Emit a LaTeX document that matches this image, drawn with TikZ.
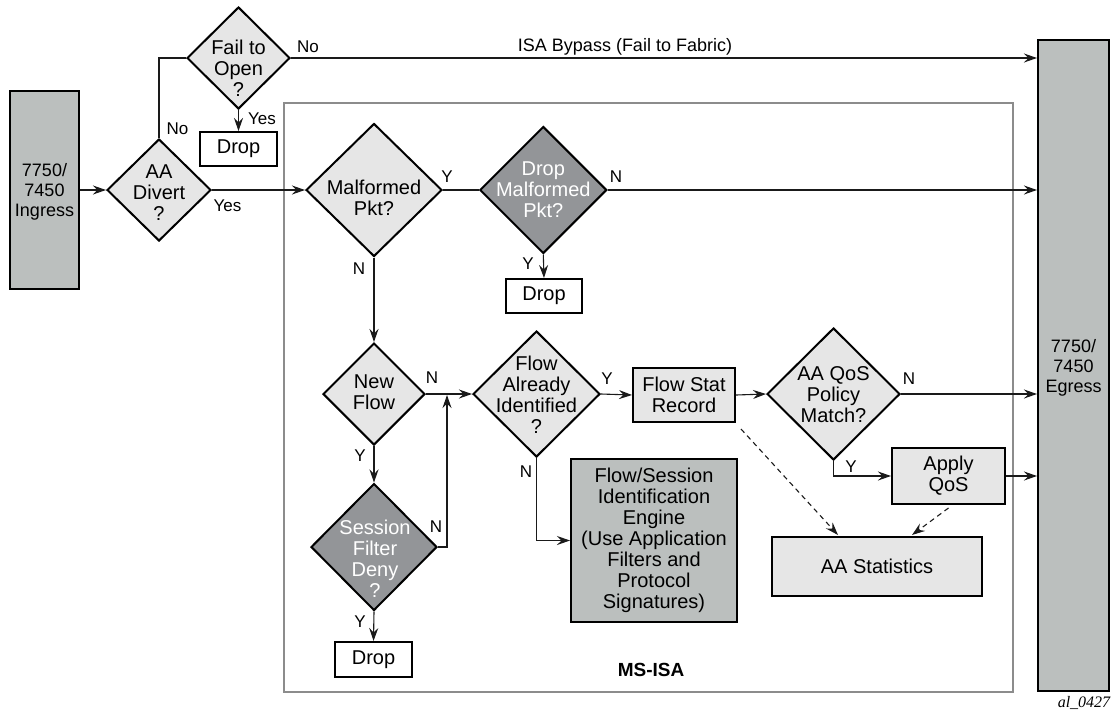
\documentclass[tikz,border=0pt]{standalone}
\usepackage{fontspec}
\setmainfont{Liberation Sans}
\newfontfamily\serifit{Liberation Serif}
\usetikzlibrary{shapes.geometric,arrows.meta,calc}
\definecolor{lightfill}{HTML}{E6E6E6}
\definecolor{darkfill}{HTML}{939598}
\definecolor{boxfill}{HTML}{BBBFBE}
\definecolor{isagray}{HTML}{8C8C8C}
\definecolor{linec}{HTML}{1A1A1A}
\begin{document}
\begin{tikzpicture}[x=1pt,y=-1pt,
  dia/.style={diamond, draw=black, line width=2pt, inner sep=0pt, fill=lightfill},
  darkdia/.style={dia, fill=darkfill},
  rbox/.style={rectangle, draw=black, line width=2pt, inner sep=0pt, align=center, font=\fontsize{20}{21}\selectfont},
  txt/.style={align=center, inner sep=0pt, font=\fontsize{20}{21}\selectfont},
  wtxt/.style={txt, text=white},
  txtb/.style={align=center, inner sep=0pt, font=\fontsize{18}{20}\selectfont},
  lbl/.style={inner sep=0pt, font=\fontsize{17}{17}\selectfont},
  conn/.style={draw=linec, line width=1.1pt},
  arr/.style={conn, -{Stealth[length=13pt,width=9pt,inset=4.5pt]}},
  darr/.style={arr, dash pattern=on 5pt off 4pt}
]
\useasboundingbox (0,0) rectangle (1111,713);

% MS-ISA frame
\node[draw=isagray, line width=2pt, inner sep=0pt, minimum width=729pt, minimum height=589pt] (isa) at (648.5,397.5) {};
\node[inner sep=0pt, font=\bfseries\fontsize{19}{19}\selectfont] (isal) at (651,670) {MS-ISA};

% ingress / egress
\node[rbox, fill=boxfill, minimum width=69pt, minimum height=198pt] (ing) at (44.5,190) {};
\node[txtb] (ingt) at (44.5,192) {7750/\\7450\\Ingress};
\node[rbox, fill=boxfill, minimum width=71pt, minimum height=651pt] (egr) at (1073.5,365.5) {};
\node[txtb] (egrt) at (1073.5,368) {7750/\\7450\\Egress};

% diamonds
\node[dia, minimum width=104pt, minimum height=102pt] (aa) at (159,190) {};
\node[txt] (aat) at (159,193) {AA\\Divert\\?};
\node[dia, minimum width=103pt, minimum height=102pt] (fto) at (238.5,58) {};
\node[txt] (ftot) at (238.5,68) {Fail to\\Open\\?};
\node[dia, minimum width=136pt, minimum height=133pt] (mal) at (374,190) {};
\node[txt] (malt) at (374,198) {Malformed\\Pkt?};
\node[darkdia, minimum width=127pt, minimum height=127pt] (dmal) at (543.3,190) {};
\node[wtxt] (dmalt) at (543.3,190) {Drop\\Malformed\\Pkt?};
\node[dia, minimum width=102pt, minimum height=102pt] (newf) at (374,394) {};
\node[txt] (newft) at (374,392) {New\\Flow};
\node[dia, minimum width=127pt, minimum height=126pt] (fai) at (536.5,394) {};
\node[txt] (fait) at (536.5,395) {Flow\\Already\\Identified\\?};
\node[darkdia, minimum width=126pt, minimum height=127pt] (sfd) at (374,547) {};
\node[wtxt] (sfdt) at (375,559) {Session\\Filter\\Deny\\?};
\node[dia, minimum width=133pt, minimum height=132pt] (qos) at (833.5,394) {};
\node[txt] (qost) at (833.5,395) {AA QoS\\Policy\\Match?};

% boxes
\node[rbox, fill=white, minimum width=77pt, minimum height=34pt] (drop1) at (238.5,149) {Drop};
\node[rbox, fill=white, minimum width=76pt, minimum height=34pt] (drop2) at (544,296) {Drop};
\node[rbox, fill=white, minimum width=77pt, minimum height=35pt] (drop3) at (373.5,659.5) {Drop};
\node[rbox, fill=boxfill, minimum width=166pt, minimum height=163pt] (eng) at (654,540.5) {Flow/Session\\Identification\\Engine\\(Use Application\\Filters and\\Protocol\\Signatures)};
\node[rbox, fill=lightfill, minimum width=102pt, minimum height=54pt] (stat) at (684,395) {Flow Stat\\Record};
\node[rbox, fill=lightfill, minimum width=113pt, minimum height=56pt] (apply) at (948.5,476) {Apply\\QoS};
\node[rbox, fill=lightfill, minimum width=210pt, minimum height=59pt] (stats) at (877,566.5) {AA Statistics};

% connectors
\draw[arr] (ing.east) -- (aa.west);
\draw[conn] (aa.north) |- (fto.west);
\draw[arr] (fto.south) -- (drop1.north);
\draw[arr] (fto.east) -- (fto.east -| egr.west);
\draw[arr] (aa.east) -- (mal.west);
\draw[conn] (mal.east) -- (dmal.west);
\draw[arr] (dmal.east) -- (dmal.east -| egr.west);
\draw[arr] (dmal.south) -- (drop2.north);
\draw[arr] (mal.south) -- (newf.north);
\draw[arr] (newf.east) -- (fai.west);
\draw[arr] (newf.south) -- (sfd.north);
\draw[arr] (sfd.south) -- (drop3.north);
\coordinate (sfdj) at (447,395);
\draw[arr] (sfd.east) -| (sfdj);
\draw[arr] (fai.east) -- (stat.west);
\draw[arr] (fai.south) |- (eng.west);
\draw[arr] (stat.east) -- (qos.west);
\draw[arr] (qos.east) -- (qos.east -| egr.west);
\draw[arr] (qos.south) |- (apply.west);
\draw[arr] (apply.east) -- (apply.east -| egr.west);
\draw[darr] ([shift={(5,6)}]stat.south east) -- ([shift={(-39,-1)}]stats.north);
\draw[darr] ([shift={(0,3)}]apply.south) -- ([shift={(35,-1)}]stats.north);

% labels
\node[txtb] (byp) at (625,47) {ISA Bypass (Fail to Fabric)};
\node[lbl] (l1) at (177.5,128.5) {No};
\node[lbl] (l2) at (227.5,205.5) {Yes};
\node[lbl] (l3) at (262,118.5) {Yes};
\node[lbl] (l4) at (308,47) {No};
\node[lbl] (l5) at (447,177) {Y};
\node[lbl] (l6) at (359,269) {N};
\node[lbl] (l7) at (528,264) {Y};
\node[lbl] (l8) at (616,177) {N};
\node[lbl] (l9) at (432,378) {N};
\node[lbl] (l10) at (360,456) {Y};
\node[lbl] (l11) at (436,527) {N};
\node[lbl] (l12) at (360,622) {Y};
\node[lbl] (l13) at (526,472) {N};
\node[lbl] (l14) at (607,379) {Y};
\node[lbl] (l15) at (909,379) {N};
\node[lbl] (l16) at (851,467) {Y};
\node[inner sep=0pt, font=\serifit\itshape\fontsize{16}{16}\selectfont] (al) at (1084,703) {al\_0427};
\end{tikzpicture}
\end{document}
